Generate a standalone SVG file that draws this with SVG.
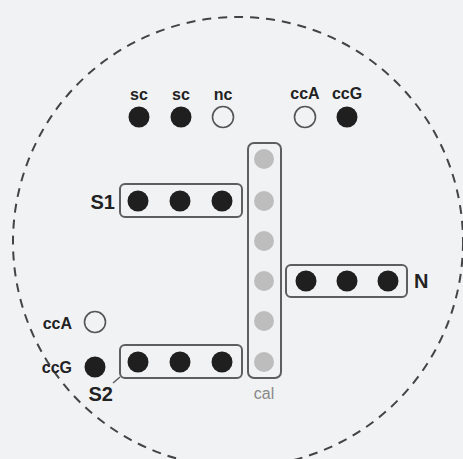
<svg xmlns="http://www.w3.org/2000/svg" width="463" height="459" viewBox="0 0 463 459">
<style>
.bg{fill:#f1f2f4}
.dk{fill:#1f1f1f}
.op{fill:#f1f2f4;stroke:#555;stroke-width:1.6}
.gr{fill:#bdbdbd}
.box{fill:none;stroke:#5e5e5e;stroke-width:2}
.lb{font-family:"Liberation Sans",Arial,sans-serif;font-weight:bold;fill:#222}
.s16{font-size:16px}
.s20{font-size:20px}
.cal{font-family:"Liberation Sans",Arial,sans-serif;font-size:16px;fill:#888}
.ring{fill:none;stroke:#444;stroke-width:2;stroke-dasharray:9 7}
</style>
<rect class="bg" x="0" y="0" width="463" height="459"/>
<circle class="ring" cx="238" cy="242" r="225"/>
<g id="top-row">
  <text class="lb s16" x="139" y="100" text-anchor="middle">sc</text>
  <text class="lb s16" x="181" y="100" text-anchor="middle">sc</text>
  <text class="lb s16" x="223" y="100" text-anchor="middle">nc</text>
  <text class="lb s16" x="305" y="99" text-anchor="middle">ccA</text>
  <text class="lb s16" x="347" y="99" text-anchor="middle">ccG</text>
  <circle class="dk" cx="139" cy="117" r="10.5"/>
  <circle class="dk" cx="181" cy="117" r="10.5"/>
  <circle class="op" cx="223" cy="117" r="10.5"/>
  <circle class="op" cx="305" cy="117" r="10.5"/>
  <circle class="dk" cx="347" cy="117" r="10.5"/>
</g>
<g id="S1">
  <rect class="box" x="120" y="184" width="122" height="33" rx="5"/>
  <circle class="dk" cx="138" cy="201" r="10.5"/>
  <circle class="dk" cx="180" cy="201" r="10.5"/>
  <circle class="dk" cx="222" cy="201" r="10.5"/>
  <text class="lb s20" x="115" y="209" text-anchor="end">S1</text>
</g>
<g id="cal">
  <rect class="box" x="248" y="143" width="33" height="235" rx="6"/>
  <circle class="gr" cx="264" cy="159" r="10"/>
  <circle class="gr" cx="264" cy="201" r="10"/>
  <circle class="gr" cx="264" cy="241" r="10"/>
  <circle class="gr" cx="264" cy="281" r="10"/>
  <circle class="gr" cx="264" cy="321" r="10"/>
  <circle class="gr" cx="264" cy="362" r="10"/>
  <text class="cal" x="264" y="399" text-anchor="middle">cal</text>
</g>
<g id="N">
  <rect class="box" x="286" y="265" width="121" height="32" rx="5"/>
  <circle class="dk" cx="306" cy="281" r="10.5"/>
  <circle class="dk" cx="347" cy="281" r="10.5"/>
  <circle class="dk" cx="388" cy="281" r="10.5"/>
  <text class="lb s20" x="414" y="288">N</text>
</g>
<g id="S2">
  <rect class="box" x="120" y="345" width="122" height="33" rx="5"/>
  <circle class="dk" cx="138" cy="362" r="10.5"/>
  <circle class="dk" cx="180" cy="362" r="10.5"/>
  <circle class="dk" cx="222" cy="362" r="10.5"/>
  <text class="lb s20" x="113" y="401" text-anchor="end">S2</text>
</g>
<g id="left-pins">
  <text class="lb s16" x="72" y="329" text-anchor="end">ccA</text>
  <circle class="op" cx="95" cy="322" r="10.5"/>
  <text class="lb s16" x="72" y="373" text-anchor="end">ccG</text>
  <circle class="dk" cx="95" cy="367" r="10.5"/>
</g>
<g id="connectors">
  <line x1="120" y1="377" x2="113" y2="383" stroke="#5e5e5e" stroke-width="1.5"/>
</g>
</svg>
